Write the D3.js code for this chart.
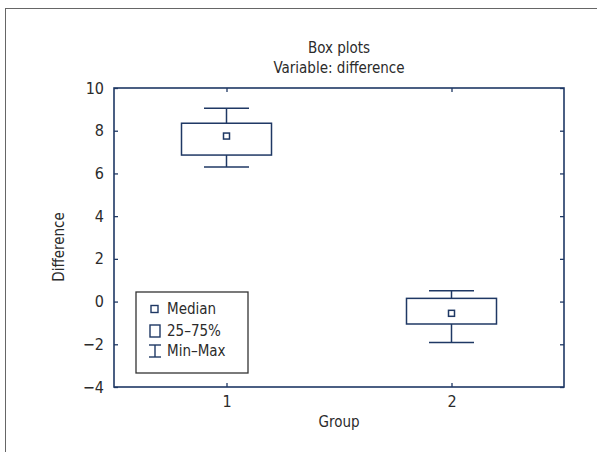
<!DOCTYPE html>
<html>
<head>
<meta charset="utf-8">
<script src="https://cdn.jsdelivr.net/npm/d3@7"></script>
<style>
  body { margin: 0; background: #fff; }
  text { font-family: "Liberation Sans Narrow", "DejaVu Sans Condensed", sans-serif; fill: #2b2b2b; }
</style>
</head>
<body>
<svg id="chart"></svg>
<script>
const groups = ["1", "2"];
const mins = [6.3, -1.92];
const q1s = [6.86, -1.05];
const medians = [7.75, -0.55];
const q3s = [8.35, 0.15];
const maxs = [9.05, 0.51];
const yTicks = [-4, -2, 0, 2, 4, 6, 8, 10];
const legendLabels = ["Median", "25\u201375%", "Min\u2013Max"];

const W = 597, H = 452;
const margin = { top: 88, right: 33, bottom: 65, left: 114 };
const width = W - margin.left - margin.right;
const height = H - margin.top - margin.bottom;
const navy = "#1f3864";

const svg = d3.select("#chart").attr("width", W).attr("height", H);

// outer frame (only top and left edges visible)
svg.append("rect")
    .attr("x", 5.5).attr("y", 8.5)
    .attr("width", W + 10).attr("height", H + 10)
    .attr("fill", "none").attr("stroke", "#666").attr("stroke-width", 1);

const x = d3.scaleLinear().domain([0.5, 2.5]).range([0, width]);
const y = d3.scaleLinear().domain([-4, 10]).range([height, 0]);

const g = svg.append("g").attr("transform", `translate(${margin.left},${margin.top})`);

const styleAxis = a => {
    a.select(".domain").remove();
    a.selectAll(".tick line").attr("stroke", navy).attr("stroke-width", 1.3);
    a.selectAll(".tick text").attr("font-size", 16).attr("fill", "#2b2b2b");
};

g.append("g")
    .attr("transform", `translate(0,${height})`)
    .call(d3.axisBottom(x).tickValues([1, 2]).tickFormat(d3.format("d")).tickSizeInner(-4).tickSizeOuter(0).tickPadding(9))
    .call(styleAxis);
g.append("g")
    .call(d3.axisTop(x).tickValues([1, 2]).tickFormat("").tickSizeInner(-4).tickSizeOuter(0))
    .call(styleAxis);
g.append("g")
    .call(d3.axisLeft(y).tickValues(yTicks).tickFormat(d => d < 0 ? "\u2212" + Math.abs(d) : d).tickSizeInner(-4).tickSizeOuter(0).tickPadding(10))
    .call(styleAxis);
g.append("g")
    .attr("transform", `translate(${width},0)`)
    .call(d3.axisRight(y).tickValues(yTicks).tickFormat("").tickSizeInner(-4).tickSizeOuter(0))
    .call(styleAxis);

g.append("rect")
    .attr("width", width).attr("height", height)
    .attr("fill", "none").attr("stroke", navy).attr("stroke-width", 1.6);

const data = groups.map((k, i) => ({ k: +k, min: mins[i], q1: q1s[i], med: medians[i], q3: q3s[i], max: maxs[i] }));
const boxW = 90, capW = 45, medS = 6;

const box = g.append("g").selectAll("g").data(data).join("g")
    .attr("stroke", navy).attr("stroke-width", 1.5).attr("fill", "none");

box.append("line")
    .attr("x1", d => x(d.k)).attr("x2", d => x(d.k))
    .attr("y1", d => y(d.max)).attr("y2", d => y(d.q3));
box.append("line")
    .attr("x1", d => x(d.k)).attr("x2", d => x(d.k))
    .attr("y1", d => y(d.q1)).attr("y2", d => y(d.min));
box.append("line")
    .attr("x1", d => x(d.k) - capW / 2).attr("x2", d => x(d.k) + capW / 2)
    .attr("y1", d => y(d.max)).attr("y2", d => y(d.max));
box.append("line")
    .attr("x1", d => x(d.k) - capW / 2).attr("x2", d => x(d.k) + capW / 2)
    .attr("y1", d => y(d.min)).attr("y2", d => y(d.min));
box.append("rect")
    .attr("x", d => x(d.k) - boxW / 2).attr("width", boxW)
    .attr("y", d => y(d.q3)).attr("height", d => y(d.q1) - y(d.q3));
box.append("rect")
    .attr("x", d => x(d.k) - medS / 2).attr("width", medS)
    .attr("y", d => y(d.med) - medS / 2).attr("height", medS);

// titles
svg.append("text").attr("x", margin.left + width / 2).attr("y", 53)
    .attr("text-anchor", "middle").attr("font-size", 15).text("Box plots");
svg.append("text").attr("x", margin.left + width / 2).attr("y", 73)
    .attr("text-anchor", "middle").attr("font-size", 15).text("Variable: difference");
svg.append("text").attr("x", margin.left + width / 2).attr("y", 427)
    .attr("text-anchor", "middle").attr("font-size", 15).text("Group");
svg.append("text")
    .attr("transform", "translate(64,247) rotate(-90)")
    .attr("text-anchor", "middle").attr("font-size", 15).text("Difference");

// legend
const lg = g.append("g").attr("transform", "translate(22,204)");
lg.append("rect").attr("width", 112).attr("height", 81)
    .attr("fill", "#fff").attr("stroke", "#333").attr("stroke-width", 1.3);
const rowY = [17, 39, 59];
lg.selectAll("text").data(legendLabels).join("text")
    .attr("x", 31).attr("y", (d, i) => rowY[i]).attr("dy", "0.35em")
    .attr("font-size", 15).text(d => d);
const sym = lg.append("g").attr("stroke", navy).attr("stroke-width", 1.4).attr("fill", "none");
sym.append("rect").attr("x", 15).attr("y", rowY[0] - 3.5).attr("width", 7).attr("height", 7);
sym.append("rect").attr("x", 14).attr("y", rowY[1] - 6).attr("width", 10).attr("height", 12);
sym.append("line").attr("x1", 19).attr("x2", 19).attr("y1", rowY[2] - 6).attr("y2", rowY[2] + 6);
sym.append("line").attr("x1", 13).attr("x2", 25).attr("y1", rowY[2] - 6).attr("y2", rowY[2] - 6);
sym.append("line").attr("x1", 13).attr("x2", 25).attr("y1", rowY[2] + 6).attr("y2", rowY[2] + 6);
</script>
</body>
</html>
